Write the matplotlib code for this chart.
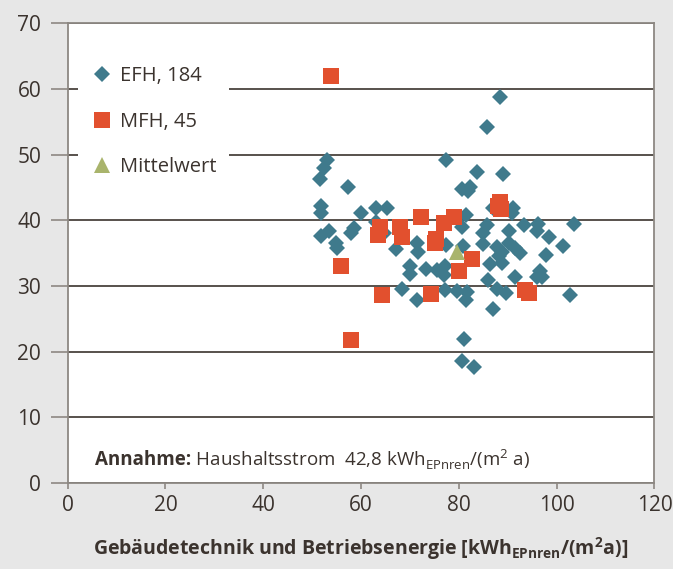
import matplotlib

matplotlib.use("Agg")

import matplotlib.pyplot as plt

plt.rcParams["font.family"] = ["Open Sans", "DejaVu Sans"]
plt.rcParams["mathtext.fontset"] = "custom"
plt.rcParams["mathtext.rm"] = "Open Sans"
plt.rcParams["mathtext.bf"] = "Open Sans:bold"

# EFH (Einfamilienhaeuser)
efh_x = [88.5, 85.8, 53.0, 52.5, 51.6, 57.3, 77.4, 83.8, 89.0, 80.7, 82.3, 81.9,
         51.8, 51.8, 59.9, 63.1, 65.3, 63.1, 86.9, 91.1, 90.9, 81.4, 80.6, 93.3,
         96.1, 96.0, 103.6, 85.7, 85.0, 90.2, 98.4, 101.2, 51.8, 53.5, 54.8, 55.0,
         57.9, 58.6, 64.6, 67.2, 71.4, 71.7, 77.4, 80.9, 84.9, 87.8, 88.8, 88.3,
         90.3, 91.5, 92.5, 97.8, 88.8, 86.4, 70.0, 70.0, 73.3, 77.2, 77.0, 96.6,
         97.0, 95.9, 91.5, 86.0, 68.4, 77.2, 79.6, 81.6, 87.9, 89.6, 81.5, 71.4,
         86.9, 102.7, 81.1, 80.7, 83.1, 75.5]
efh_y = [58.7, 54.2, 49.1, 47.9, 46.3, 45.0, 49.1, 47.3, 47.1, 44.7, 45.0, 44.5,
         42.2, 41.1, 41.1, 41.8, 41.8, 39.8, 41.8, 41.9, 41.1, 40.8, 39.0, 39.2,
         39.5, 38.3, 39.4, 39.2, 38.1, 38.3, 37.5, 36.1, 37.6, 38.3, 36.5, 35.8,
         38.0, 38.8, 38.0, 35.6, 36.6, 35.1, 36.2, 36.1, 36.4, 36.0, 35.2, 34.5,
         36.5, 35.7, 35.0, 34.7, 33.5, 33.3, 33.1, 31.8, 32.6, 33.1, 31.7, 32.2,
         31.4, 31.3, 31.3, 30.9, 29.5, 29.4, 29.2, 29.1, 29.6, 29.0, 27.9, 27.9,
         26.5, 28.6, 21.9, 18.6, 17.7, 32.4]

# MFH (Mehrfamilienhaeuser)
mfh_x = [53.9, 88.5, 88.6, 88.1, 72.3, 79.0, 77.0, 63.9, 63.4, 68.0, 68.3,
         75.3, 75.1, 82.6, 80.1, 55.9, 64.2, 74.3, 93.5, 94.3, 58.0]
mfh_y = [61.9, 42.7, 41.7, 42.2, 40.5, 40.5, 39.6, 39.0, 37.8, 39.0, 37.5,
         37.1, 36.6, 34.1, 32.2, 33.1, 28.6, 28.8, 29.4, 28.9, 21.7]

mean_x = [79.7]
mean_y = [35.1]

labels = ["EFH, 184", "MFH, 45", "Mittelwert"]
x_ticks = [0, 20, 40, 60, 80, 100, 120]
y_ticks = [0, 10, 20, 30, 40, 50, 60, 70]

text_col = "#3b332e"
spine_col = "#8d8883"

fig = plt.figure(figsize=(6.73, 5.69), dpi=100, facecolor="#e7e7e7")
ax = fig.add_axes([0.1004, 0.151, 0.8721, 0.8084])
ax.set_facecolor("white")

ax.plot(efh_x, efh_y, "D", color="#3f7a8c", markersize=8.4, markeredgewidth=0,
        label=labels[0], zorder=3)
ax.plot(mfh_x, mfh_y, "s", color="#e2502e", markersize=11.5, markeredgewidth=0,
        label=labels[1], zorder=4)
ax.plot(mean_x, mean_y, "^", color="#a9b46c", markersize=12, markeredgewidth=0,
        label=labels[2], zorder=5)

ax.set_xlim(0, 120)
ax.set_ylim(0, 70)
ax.set_xticks(x_ticks)
ax.set_yticks(y_ticks)
ax.set_xticklabels([str(v) for v in x_ticks])
ax.set_yticklabels([str(v) for v in y_ticks])

ax.yaxis.grid(True, color="#3b332e", linewidth=1.2)
ax.set_axisbelow(True)
for side in ["left", "right", "top", "bottom"]:
    ax.spines[side].set_color(spine_col)
    ax.spines[side].set_linewidth(1.3)

ax.tick_params(axis="y", length=12, width=1.2, color=spine_col, pad=7,
               labelsize=15, labelcolor=text_col)
ax.tick_params(axis="x", length=4.5, width=1.2, color=spine_col, pad=4,
               labelsize=15, labelcolor=text_col)

leg = ax.legend(loc="upper left", bbox_to_anchor=(0.018, 0.932), frameon=True,
                facecolor="white", edgecolor="none", framealpha=1, fancybox=False,
                fontsize=14.5, labelspacing=1.25, handletextpad=0.3,
                handlelength=1.2, borderpad=0.6, borderaxespad=0)
for t in leg.get_texts():
    t.set_color(text_col)

bold = ax.text(5.6, 3.5, "Annahme:", fontsize=13.5, fontweight="bold",
               color=text_col, va="center", ha="left")
ax.annotate(r" Haushaltsstrom  42,8 kWh$_{\mathrm{EPnren}}$/(m$^{\mathrm{2}}$ a)",
            xy=(1, 0.5), xycoords=bold, va="center", ha="left",
            fontsize=13.5, color=text_col)

ax.set_xlabel(r"Gebäudetechnik und Betriebsenergie [kWh$_{\mathbf{EPnren}}$/(m$^{\mathbf{2}}$a)]",
              fontsize=14, fontweight="bold", color=text_col, labelpad=14)

fig.savefig("out.png", dpi=100, facecolor=fig.get_facecolor())
